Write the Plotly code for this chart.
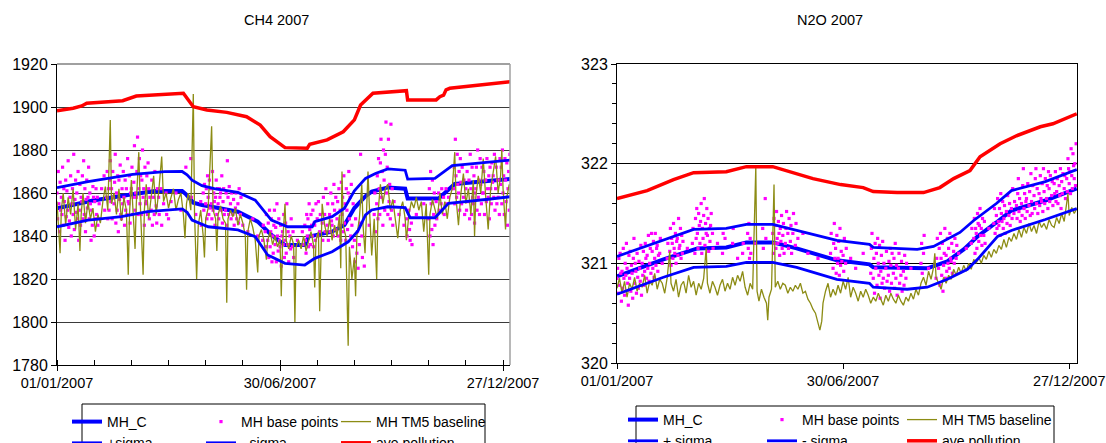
import pandas as pd
import plotly.graph_objects as go

BASE = pd.Timestamp("2007-01-01")

# ---------------- CH4 data (day of year from 01/01/2007) ----------------
ch4_mhc_day = [0, 28, 57, 79, 101, 104, 110, 117, 127, 146, 162, 173, 184, 200, 203, 222, 232, 240, 249, 254, 267, 281, 283, 308, 321, 348, 366]
ch4_mhc_val = [1852.9, 1856.4, 1859.1, 1860.9, 1860.9, 1859.5, 1855.5, 1854.4, 1853.4, 1851.3, 1846.7, 1840.5, 1835.8, 1835.8, 1839.7, 1842.0, 1845.1, 1853.0, 1858.5, 1860.6, 1862.6, 1862.0, 1857.5, 1857.5, 1864.2, 1865.3, 1866.5]

ch4_up_day = [0, 25, 61, 87, 101, 105, 109, 117, 127, 146, 160, 173, 186, 206, 208, 222, 232, 240, 249, 257, 267, 281, 283, 305, 319, 348, 366]
ch4_up_val = [1862.5, 1865.3, 1868.7, 1869.9, 1870.0, 1868.5, 1866.0, 1863.4, 1862.0, 1860.3, 1856.7, 1847.4, 1844.3, 1844.3, 1846.7, 1849.0, 1852.9, 1861.0, 1866.8, 1869.1, 1871.2, 1870.6, 1866.5, 1866.8, 1872.7, 1874.3, 1875.3]

ch4_lo_day = [0, 25, 52, 73, 101, 105, 109, 122, 146, 160, 170, 184, 200, 208, 222, 235, 243, 249, 254, 267, 281, 285, 305, 316, 348, 366]
ch4_lo_val = [1844.3, 1847.4, 1849.0, 1851.3, 1852.6, 1851.0, 1847.4, 1844.3, 1842.8, 1839.7, 1831.2, 1827.3, 1826.5, 1829.6, 1832.7, 1837.3, 1842.5, 1849.8, 1852.1, 1853.6, 1853.2, 1848.5, 1848.5, 1855.2, 1857.1, 1858.3]

ch4_pol_day = [0, 13, 20, 24, 53, 64, 102, 106, 110, 121, 137, 153, 164, 172, 184, 202, 204, 218, 231, 240, 245, 255, 282, 283, 306, 309, 312, 314, 317, 366]
ch4_pol_val = [1898.3, 1899.4, 1900.5, 1901.8, 1902.9, 1905.1, 1906.4, 1903.3, 1900.1, 1898.6, 1897.5, 1895.5, 1891.6, 1886.2, 1881.1, 1880.8, 1882.7, 1884.7, 1888.5, 1894.0, 1900.9, 1906.4, 1907.6, 1903.3, 1903.3, 1904.8, 1905.5, 1908.0, 1908.7, 1911.8]

ch4_tm5_day = [0, 1, 2.5, 3.5, 5, 7, 9, 11, 13, 15, 17, 18.5, 19.5, 21, 23, 25, 27, 29, 31, 33, 35, 37, 39, 41, 43, 44, 46, 48, 50, 52, 54, 56, 57.5, 58.5, 60, 62, 63, 64, 66, 67, 69.5, 70.5, 72, 74, 76, 78, 80, 82, 84.5, 86, 88, 90, 92, 94, 96, 98, 100, 102, 103.3, 104.5, 106, 108, 110, 111, 112.7, 114, 116, 118, 119, 120, 122, 124.8, 126, 128, 129, 130, 132, 134, 136, 137, 138, 140, 142, 144, 146, 148, 150, 152, 153, 154, 156, 158, 160, 162, 163, 165, 167, 169, 170, 172, 174, 176, 178, 180, 181, 182, 184, 185, 187, 189, 191, 192, 193, 195, 197, 199, 201, 203, 205, 207, 208, 209, 211, 212, 213, 214, 216, 218, 220, 222, 224, 226, 228, 229, 230, 231, 233, 235, 236, 238, 240, 241, 242, 244, 246, 247, 248.6, 250, 251, 252, 254, 256, 258, 259, 261, 263, 265, 267, 269, 271, 273, 275, 277, 279, 281, 282, 284, 286, 288, 290, 292, 294, 296, 298, 300, 301, 303, 305, 307, 309, 311, 313, 315, 317, 319, 321, 322, 324, 326, 328, 330, 332, 334, 336, 337, 338, 340, 342, 344, 346, 348, 350, 352, 354, 356, 358, 359, 360, 362, 363, 365]
ch4_tm5_val = [1856, 1848, 1832, 1852, 1860, 1845, 1858, 1850, 1862, 1843, 1855, 1833, 1850, 1860, 1846, 1856, 1848, 1853, 1842, 1850, 1846, 1856, 1863, 1852, 1894, 1855, 1860, 1850, 1862, 1847, 1858, 1852, 1822, 1850, 1866, 1845, 1834, 1855, 1879, 1858, 1822, 1852, 1864, 1848, 1858, 1868, 1850, 1860, 1877, 1856, 1860, 1853, 1858, 1862, 1852, 1857, 1860, 1850, 1839, 1855, 1860, 1852, 1906, 1850, 1820, 1845, 1852, 1840, 1830, 1848, 1853, 1891, 1852, 1848, 1833, 1850, 1854, 1848, 1846, 1809, 1848, 1852, 1849, 1853, 1845, 1850, 1846, 1840, 1815, 1842, 1848, 1844, 1838, 1823, 1840, 1843, 1838, 1829, 1838, 1842, 1836, 1840, 1835, 1838, 1812, 1836, 1855, 1838, 1834, 1840, 1836, 1800, 1835, 1838, 1834, 1840, 1833, 1838, 1842, 1836, 1816, 1838, 1842, 1805, 1840, 1855, 1845, 1840, 1848, 1838, 1845, 1840, 1850, 1825, 1870, 1845, 1840, 1789, 1835, 1820, 1830, 1812, 1840, 1848, 1864, 1845, 1832, 1850, 1870, 1855, 1831, 1848, 1820, 1850, 1864, 1855, 1862, 1864, 1852, 1857, 1848, 1839, 1852, 1856, 1848, 1838, 1850, 1856, 1853, 1858, 1852, 1856, 1842, 1855, 1822, 1850, 1857, 1853, 1848, 1860, 1850, 1856, 1848, 1858, 1862, 1879, 1858, 1845, 1860, 1869, 1855, 1862, 1850, 1866, 1840, 1858, 1868, 1860, 1876, 1858, 1843, 1862, 1870, 1877, 1860, 1868, 1880, 1862, 1843, 1858, 1864]

ch4_pts_day = [0, 2, 4, 6, 8, 10, 12, 14, 16, 18, 20, 22, 24, 26, 28, 30, 32, 34, 36, 38, 40, 42, 44, 46, 48, 50, 52, 54, 56, 58, 60, 62, 64, 66, 68, 70, 72, 74, 76, 78, 80, 82, 84, 86, 88, 90, 92, 96, 100, 104, 108, 112, 116, 118, 120, 122, 124, 126, 128, 130, 132, 134, 136, 138, 140, 142, 144, 146, 148, 150, 154, 158, 162, 166, 168, 170, 172, 174, 176, 178, 180, 182, 184, 186, 188, 190, 194, 198, 200, 202, 204, 206, 208, 210, 212, 214, 216, 218, 220, 222, 224, 226, 228, 230, 232, 234, 236, 238, 240, 242, 244, 246, 248, 252, 256, 258, 260, 262, 264, 266, 268, 270, 272, 276, 280, 282, 284, 286, 290, 296, 300, 302, 304, 306, 308, 310, 312, 314, 316, 320, 322, 324, 326, 328, 330, 332, 334, 336, 338, 340, 342, 344, 346, 348, 350, 352, 354, 356, 358, 360, 362, 364]
ch4_pts_val = [
    [1860, 1848, 1870, 1855], [1842, 1865, 1852, 1858], [1850, 1872, 1845, 1862], [1856, 1838, 1866, 1849],
    [1861, 1852, 1875, 1844], [1847, 1858, 1868, 1840], [1855, 1862, 1850, 1878], [1843, 1857, 1866, 1851],
    [1860, 1848, 1870, 1838], [1852, 1864, 1845, 1858], [1856, 1868, 1848, 1875], [1850, 1862, 1842, 1857],
    [1866, 1853, 1858, 1872], [1848, 1860, 1855, 1838], [1852, 1845, 1863, 1858], [1840, 1856, 1848, 1862],
    [1850, 1858, 1845], [1855, 1848], [1862], [1868, 1852],
    [1858, 1870, 1848, 1862], [1852, 1866, 1875, 1856], [1862, 1848, 1870, 1858], [1855, 1865, 1878, 1846],
    [1860, 1852, 1868, 1842], [1866, 1857, 1873, 1850], [1848, 1862, 1855, 1870], [1858, 1845, 1866, 1852],
    [1862, 1850, 1876, 1856], [1855, 1868, 1846, 1860], [1862, 1872, 1850, 1858], [1865, 1882, 1852, 1860],
    [1858, 1870, 1886, 1850], [1862, 1876, 1855, 1868], [1850, 1866, 1880, 1858], [1862, 1845, 1872, 1855],
    [1856, 1868, 1850, 1874], [1862, 1848, 1858], [1852, 1866, 1845], [1858, 1850, 1870],
    [1854, 1846, 1862], [1858, 1850], [1862, 1845], [1855], [1860, 1850], [1848], [1856], [1860], [1852],
    [1872], [1876, 1858], [1850], [1856, 1845], [1860, 1852, 1864],
    [1855, 1862, 1848, 1868], [1858, 1850, 1866, 1853], [1862, 1855, 1848, 1870], [1852, 1860, 1856, 1845],
    [1858, 1866, 1850, 1862], [1855, 1848, 1862, 1858], [1860, 1852, 1868, 1846], [1856, 1862, 1850],
    [1852, 1860, 1845, 1875], [1858, 1850, 1863], [1855, 1848, 1860], [1850, 1857, 1845], [1853, 1860, 1848],
    [1855, 1846, 1862], [1850, 1858], [1845], [1842], [1848], [1840], [1838, 1845], [1842, 1835, 1850],
    [1838, 1846, 1830, 1852], [1835, 1842, 1848, 1828], [1840, 1832, 1845, 1852], [1836, 1844, 1828, 1855],
    [1840, 1833, 1848, 1838], [1835, 1845, 1826, 1840], [1842, 1836, 1850, 1830], [1838, 1846, 1832, 1855],
    [1836, 1842, 1828], [1840, 1834, 1848], [1835, 1842, 1830], [1838], [1842, 1836],
    [1845, 1838, 1832, 1850], [1840, 1848, 1835, 1855], [1843, 1836, 1850, 1845], [1840, 1852, 1835, 1846],
    [1845, 1838, 1855], [1848, 1840, 1856], [1842, 1850], [1846, 1838, 1858], [1850, 1842, 1862],
    [1845, 1855, 1838], [1850, 1842, 1860, 1847], [1845, 1855, 1840, 1864], [1852, 1843, 1858],
    [1848, 1856, 1840, 1862], [1845, 1852, 1838, 1865], [1850, 1858, 1842, 1868], [1846, 1855, 1838, 1862],
    [1852, 1843, 1860, 1870], [1848, 1858, 1840, 1864], [1845, 1835, 1855], [1838, 1828, 1848],
    [1832, 1842, 1825], [1836, 1846, 1878], [1840, 1830], [1826], [1845],
    [1850, 1860, 1842], [1855, 1868, 1848, 1876], [1862, 1850, 1874, 1885], [1858, 1870, 1845, 1880],
    [1866, 1852, 1878, 1893], [1860, 1872, 1850, 1885], [1856, 1864, 1848, 1892], [1852, 1862, 1845],
    [1856], [1850], [1845], [1848, 1840], [1852, 1843, 1838], [1846, 1836], [1850], [1855],
    [1848, 1862, 1840, 1870], [1855, 1843, 1866, 1836], [1850, 1860, 1845], [1856, 1848], [1860, 1852],
    [1855, 1862], [1858, 1850], [1862, 1855], [1858],
    [1862, 1872, 1855, 1885], [1868, 1858, 1878, 1864], [1860, 1870, 1852, 1876], [1865, 1855, 1872],
    [1858, 1866, 1850], [1862, 1852, 1870], [1856, 1866, 1848, 1878], [1862, 1850, 1872, 1858],
    [1855, 1868, 1846, 1860], [1862, 1872, 1852, 1880], [1858, 1866, 1850, 1876], [1864, 1855, 1872, 1860],
    [1860, 1870, 1850, 1866], [1866, 1856, 1876, 1862], [1858, 1868, 1848, 1872], [1862, 1855, 1874, 1865],
    [1868, 1858, 1878, 1852], [1862, 1872, 1855, 1866], [1858, 1866, 1850, 1876], [1864, 1872, 1855, 1880],
    [1860, 1868, 1850, 1876], [1866, 1856, 1874, 1845], [1862, 1870, 1852, 1878],
]

# ---------------- N2O data ----------------
n2o_mhc_day = [0, 37, 64, 87, 103, 124, 143, 175, 201, 204, 247, 263, 276, 287, 302, 314, 341, 366]
n2o_mhc_val = [320.87, 321.04, 321.15, 321.16, 321.21, 321.21, 321.15, 321.03, 320.99, 320.96, 320.95, 321.02, 321.14, 321.27, 321.41, 321.53, 321.63, 321.75]

n2o_up_day = [0, 37, 61, 87, 103, 124, 140, 175, 201, 204, 239, 252, 273, 284, 302, 314, 341, 366]
n2o_up_val = [321.07, 321.23, 321.34, 321.35, 321.39, 321.39, 321.34, 321.23, 321.19, 321.16, 321.14, 321.17, 321.31, 321.43, 321.60, 321.73, 321.82, 321.94]

n2o_lo_day = [0, 37, 61, 87, 103, 124, 143, 175, 201, 204, 231, 247, 263, 279, 287, 303, 314, 341, 366]
n2o_lo_val = [320.69, 320.86, 320.96, 320.97, 321.01, 321.01, 320.96, 320.84, 320.80, 320.76, 320.74, 320.76, 320.84, 320.94, 321.04, 321.27, 321.33, 321.44, 321.55]

n2o_pol_day = [0, 24, 45, 61, 87, 103, 124, 135, 156, 178, 196, 204, 223, 244, 257, 268, 281, 289, 305, 318, 337, 347, 366]
n2o_pol_val = [321.65, 321.73, 321.84, 321.91, 321.92, 321.97, 321.97, 321.93, 321.85, 321.79, 321.76, 321.72, 321.71, 321.71, 321.76, 321.85, 321.93, 322.07, 322.20, 322.28, 322.37, 322.40, 322.50]

n2o_tm5_day = [0, 2, 4, 6, 8, 10, 12, 14, 16, 18, 20, 22, 24, 26, 28, 30, 32, 34, 36, 38, 40, 42, 43, 45, 47, 49, 51, 53, 55, 57, 59, 61, 63, 65, 67, 69, 71, 72, 74, 76, 78, 80, 82, 84, 86, 88, 90, 92, 94, 96, 98, 100, 102, 104, 106, 108, 110.5, 111.5, 113, 115, 117, 119, 120, 121, 123, 125, 126, 128, 130, 132, 134, 136, 138, 140, 142, 144, 146, 148, 150, 152, 154, 156, 158, 160, 161.5, 163, 164, 166, 168, 170, 172, 174, 176, 178, 180, 182, 184, 186, 188, 190, 192, 194, 196, 198, 200, 202, 204, 206, 208, 210, 212, 214, 216, 218, 220, 222, 224, 226, 228, 230, 232, 234, 236, 238, 240, 242, 244, 246, 248, 250, 252, 253, 254, 256, 258, 260, 262, 264, 266, 268, 270, 272, 274, 276, 278, 280, 282, 284, 286, 288, 290, 292, 294, 296, 298, 300, 302, 304, 306, 308, 310, 312, 314, 316, 318, 320, 322, 324, 326, 328, 330, 332, 334, 336, 338, 340, 342, 344, 346, 348, 350, 352, 354, 356, 358, 359, 360, 362, 364, 366]
n2o_tm5_val = [320.75, 320.85, 320.70, 320.82, 320.66, 320.80, 320.74, 320.86, 320.72, 320.80, 320.76, 320.88, 320.70, 320.82, 320.78, 320.90, 320.74, 320.84, 320.80, 320.70, 320.86, 321.12, 320.80, 320.72, 320.84, 320.66, 320.78, 320.82, 320.70, 320.88, 320.76, 320.82, 320.68, 320.80, 320.74, 320.85, 321.15, 320.80, 320.70, 320.82, 320.76, 320.68, 320.78, 320.84, 320.72, 320.80, 320.74, 320.86, 320.78, 320.88, 320.82, 320.92, 320.76, 320.68, 320.80, 320.74, 321.97, 320.72, 320.62, 320.74, 320.66, 320.60, 320.43, 320.66, 320.74, 321.79, 320.76, 320.82, 320.74, 320.80, 320.78, 320.70, 320.76, 320.72, 320.78, 320.74, 320.80, 320.70, 320.72, 320.64, 320.60, 320.54, 320.50, 320.40, 320.33, 320.42, 320.60, 320.72, 320.80, 320.66, 320.74, 320.68, 320.78, 320.70, 320.82, 320.74, 320.86, 320.66, 320.76, 320.70, 320.62, 320.72, 320.66, 320.74, 320.68, 320.60, 320.66, 320.62, 320.70, 320.64, 320.58, 320.68, 320.62, 320.70, 320.64, 320.60, 320.68, 320.62, 320.58, 320.66, 320.62, 320.70, 320.64, 320.74, 320.68, 320.80, 320.86, 320.78, 320.92, 320.84, 320.96, 321.10, 320.86, 320.80, 320.74, 320.86, 320.80, 320.88, 320.84, 320.94, 320.88, 320.96, 320.90, 320.98, 320.92, 321.00, 320.94, 321.04, 321.00, 321.06, 321.00, 321.08, 321.04, 321.12, 321.06, 321.14, 321.10, 321.18, 321.14, 321.24, 321.16, 321.26, 321.22, 321.30, 321.24, 321.34, 321.26, 321.36, 321.30, 321.40, 321.32, 321.38, 321.30, 321.42, 321.36, 321.40, 321.34, 321.44, 321.38, 321.36, 321.46, 321.40, 321.50, 321.42, 321.58, 321.70, 321.48, 321.56, 321.50, 321.55]

n2o_pts_day = [0, 2, 4, 6, 8, 10, 12, 14, 16, 18, 20, 22, 24, 26, 28, 30, 32, 34, 36, 40, 42, 44, 46, 48, 50, 52, 56, 60, 62, 64, 66, 68, 70, 72, 74, 76, 80, 84, 86, 92, 96, 100, 104, 106, 110, 116, 118, 124, 126, 128, 130, 132, 134, 136, 138, 140, 142, 144, 148, 152, 160, 170, 172, 174, 176, 178, 180, 182, 186, 190, 196, 202, 204, 206, 208, 210, 212, 214, 216, 218, 220, 222, 224, 226, 228, 230, 234, 242, 244, 248, 254, 256, 258, 260, 262, 264, 266, 268, 270, 272, 278, 282, 284, 286, 288, 290, 292, 296, 300, 302, 304, 306, 308, 310, 312, 314, 316, 318, 320, 322, 324, 326, 328, 330, 332, 334, 336, 338, 340, 342, 344, 346, 348, 350, 352, 354, 356, 358, 360, 362, 364]
n2o_pts_val = [
    [320.85, 320.95, 320.70, 321.05], [320.78, 321.10, 320.90, 320.62], [320.92, 320.75, 321.15, 320.85],
    [320.68, 321.00, 320.88, 321.20], [320.95, 320.80, 320.58, 321.08], [320.85, 321.12, 320.72, 320.98],
    [320.90, 320.65, 321.05, 321.25], [320.80, 321.00, 320.92, 320.70], [321.10, 320.86, 320.75, 321.02],
    [320.95, 320.82, 321.18, 320.68], [321.00, 320.88, 321.12, 320.78], [320.92, 321.20, 321.05, 320.85],
    [321.08, 320.95, 321.28, 320.82], [321.00, 321.15, 320.90, 321.30], [321.12, 320.95, 321.22, 320.86],
    [321.05, 321.30, 320.98, 321.15], [321.18, 320.92, 321.08], [321.10, 321.25], [321.00], [321.05, 321.20],
    [321.12, 321.35, 320.98, 321.25], [321.20, 321.05, 321.40, 321.15], [321.10, 321.30, 321.00, 321.22],
    [321.25, 321.08, 321.45, 321.15], [321.18, 321.35, 321.05, 321.28], [321.10, 321.22], [321.15],
    [321.20, 321.35], [321.10, 321.45, 321.25, 321.55], [321.30, 321.15, 321.50, 321.38],
    [321.20, 321.42, 321.60, 321.10], [321.35, 321.25, 321.48, 321.65], [321.18, 321.40, 321.30, 321.55],
    [321.28, 321.45, 321.12, 321.35], [321.22, 321.38, 321.50], [321.30, 321.15], [321.20], [321.10, 321.30],
    [321.25], [321.20, 321.35], [321.05], [321.10, 321.20], [321.30, 321.15, 321.40, 321.05], [321.25, 321.10],
    [321.20], [321.35, 321.15], [321.65, 321.25], [321.30, 321.10, 321.45, 321.20], [321.38, 321.15, 321.52, 321.25],
    [321.20, 321.42, 321.30, 321.08], [321.35, 321.22, 321.48, 321.15], [321.28, 321.40, 321.10],
    [321.20, 321.35, 321.52], [321.30, 321.15, 321.45], [321.22, 321.38, 321.10], [321.30, 321.50],
    [321.18, 321.40], [321.25], [321.30], [321.10], [321.05], [321.10, 321.30],
    [320.95, 321.20, 321.40, 321.05], [321.15, 320.90, 321.28, 321.00], [321.05, 321.22, 320.88, 321.35],
    [320.98, 321.12, 321.02], [321.08, 320.92, 321.25], [321.00, 321.15], [321.05], [320.95], [321.10],
    [320.90, 321.15, 321.30], [320.85, 321.05, 320.70, 321.20], [320.95, 321.10, 320.78, 321.25],
    [321.00, 320.88, 321.18, 320.65], [320.92, 321.08, 320.80, 321.22], [320.85, 321.00, 320.75],
    [320.95, 321.12, 320.82], [320.88, 321.02, 320.72, 321.15], [320.98, 320.80, 321.10],
    [320.90, 321.05, 320.75, 321.20], [320.85, 320.98, 320.68], [320.95, 321.10, 320.80],
    [320.88, 321.02, 320.72], [320.92, 320.78, 321.08], [320.85, 321.00], [320.95],
    [321.00, 321.20, 320.90], [321.10, 321.28], [320.95], [320.85, 321.05, 321.25],
    [320.95, 321.15, 320.78, 321.30], [321.05, 320.88, 321.20, 320.72], [320.98, 321.10, 321.35, 320.85],
    [321.08, 320.92, 321.25, 321.00], [321.15, 320.95, 321.30, 321.05], [321.02, 321.20, 320.90],
    [321.12, 321.00, 321.25], [321.05, 321.18], [321.10], [321.15], [321.20, 321.35],
    [321.25, 321.45, 321.10, 321.35], [321.30, 321.15, 321.50, 321.40], [321.22, 321.38, 321.55, 321.28],
    [321.35, 321.18, 321.45], [321.28, 321.42, 321.20], [321.35], [321.40, 321.55, 321.30],
    [321.48, 321.35, 321.65, 321.42], [321.38, 321.55, 321.28, 321.70], [321.50, 321.42, 321.62, 321.35],
    [321.45, 321.58, 321.30], [321.52, 321.40, 321.68], [321.48, 321.60, 321.38], [321.55, 321.45, 321.75],
    [321.50, 321.62], [321.58, 321.45, 321.70, 321.85], [321.52, 321.65, 321.42],
    [321.60, 321.48, 321.78, 321.95], [321.55, 321.70, 321.45, 321.62], [321.65, 321.52, 321.80],
    [321.58, 321.72, 321.48, 321.90], [321.62, 321.50, 321.78], [321.68, 321.55, 321.85, 321.95],
    [321.60, 321.75, 321.50], [321.70, 321.58, 321.88, 321.65], [321.62, 321.80, 321.52, 321.95],
    [321.72, 321.60, 321.85], [321.65, 321.78, 321.55, 321.92], [321.75, 321.62, 321.88],
    [321.68, 321.82, 321.58], [321.80, 321.70, 321.92, 321.62], [321.72, 321.85, 321.60],
    [321.78, 321.68, 321.95, 321.55], [321.82, 321.70, 321.90], [321.75, 321.88, 321.65],
    [321.85, 321.72, 322.05, 321.95], [321.80, 321.92, 321.70, 322.15], [321.88, 321.75, 322.10, 321.98],
    [321.85, 322.00, 321.78, 322.20],
]

tick_labels = ["01/01/2007", "30/06/2007", "27/12/2007"]
tick_days = [0, 180, 360]
minor_days = [0, 30, 60, 90, 120, 150, 180, 210, 240, 270, 300, 330, 360]


def dates(days):
    return [BASE + pd.Timedelta(days=float(d)) for d in days]


def flatten(days, vals):
    xs, ys = [], []
    for d, vs in zip(days, vals):
        for k, v in enumerate(vs):
            xs.append(d + 0.5 * k)
            ys.append(v)
    return dates(xs), ys


FONT = "Liberation Sans, Arial, sans-serif"
BLUE = "#0000ff"
fig = go.Figure()


def add_chart(xa, ya, legs, mhc, pts, tm5, up, lo, pol, up_name, lo_name):
    l1, l2, l3 = legs
    fig.add_trace(go.Scatter(x=dates(mhc[0]), y=mhc[1], mode="lines", name="MH_C",
                             line=dict(color=BLUE, width=4), xaxis=xa, yaxis=ya, legend=l1))
    px_, py_ = flatten(*pts)
    fig.add_trace(go.Scatter(x=px_, y=py_, mode="markers", name="MH base points",
                             marker=dict(color="#ff00ff", size=3.2, symbol="square"),
                             xaxis=xa, yaxis=ya, legend=l2))
    fig.add_trace(go.Scatter(x=dates(tm5[0]), y=tm5[1], mode="lines", name="MH TM5 baseline",
                             line=dict(color="#8c8c14", width=1.3), xaxis=xa, yaxis=ya, legend=l3))
    fig.add_trace(go.Scatter(x=dates(up[0]), y=up[1], mode="lines", name=up_name,
                             line=dict(color=BLUE, width=2.8), xaxis=xa, yaxis=ya, legend=l1))
    fig.add_trace(go.Scatter(x=dates(lo[0]), y=lo[1], mode="lines", name=lo_name,
                             line=dict(color=BLUE, width=2.8), xaxis=xa, yaxis=ya, legend=l2))
    fig.add_trace(go.Scatter(x=dates(pol[0]), y=pol[1], mode="lines", name="ave pollution",
                             line=dict(color="#ff0000", width=3.5), xaxis=xa, yaxis=ya, legend=l3))


add_chart("x", "y", ("legend", "legend2", "legend3"),
          (ch4_mhc_day, ch4_mhc_val), (ch4_pts_day, ch4_pts_val), (ch4_tm5_day, ch4_tm5_val),
          (ch4_up_day, ch4_up_val), (ch4_lo_day, ch4_lo_val), (ch4_pol_day, ch4_pol_val),
          "+sigma", "- sigma")
add_chart("x2", "y2", ("legend4", "legend5", "legend6"),
          (n2o_mhc_day, n2o_mhc_val), (n2o_pts_day, n2o_pts_val), (n2o_tm5_day, n2o_tm5_val),
          (n2o_up_day, n2o_up_val), (n2o_lo_day, n2o_lo_val), (n2o_pol_day, n2o_pol_val),
          "+ sigma", "- sigma")

W, H = 1106, 443


def px(x):
    return x / W


def py(y):
    return 1 - y / H


xrange_ = [BASE, BASE + pd.Timedelta(days=365.6)]
xrange2 = [BASE, BASE + pd.Timedelta(days=366.2)]

common_x = dict(type="date", tickmode="array", tickvals=dates(tick_days), ticktext=tick_labels,
                tickfont=dict(family=FONT, size=14.5, color="black"), showgrid=False,
                showline=True, linecolor="black", linewidth=1, ticks="outside", ticklen=5,
                tickcolor="black", zeroline=False, automargin=False)

fig.update_layout(
    width=W, height=H, margin=dict(l=0, r=0, t=0, b=0, autoexpand=False),
    paper_bgcolor="white", plot_bgcolor="white", showlegend=True,
    font=dict(family=FONT, color="black"),
    xaxis=dict(domain=[px(57), px(510)], range=xrange_, anchor="y",
               minor=dict(tickmode="array", tickvals=dates(minor_days), ticks="inside",
                          ticklen=5, tickcolor="black", showgrid=False),
               **common_x),
    yaxis=dict(domain=[py(365), py(64)], range=[1780, 1920], tickmode="linear", tick0=1780, dtick=20,
               tickfont=dict(family=FONT, size=16, color="black"), showgrid=True,
               gridcolor="#3a3a3a", gridwidth=1, showline=True, linecolor="black",
               ticks="outside", ticklen=5, tickcolor="black", zeroline=False, anchor="x",
               automargin=False),
    xaxis2=dict(domain=[px(617), px(1077)], range=xrange2, anchor="y2", mirror=True, **common_x),
    yaxis2=dict(domain=[py(363), py(64)], range=[320, 323], tickmode="linear", tick0=320, dtick=1,
                tickfont=dict(family=FONT, size=16, color="black"), showgrid=True,
                gridcolor="black", gridwidth=1, showline=True, linecolor="black", mirror=True,
                ticks="outside", ticklen=5, tickcolor="black", zeroline=False, anchor="x2",
                automargin=False,
                minor=dict(tickmode="linear", tick0=320, dtick=0.2, ticks="outside", ticklen=4,
                           tickcolor="black", showgrid=False)),
)

leg_common = dict(orientation="v", xanchor="left", yanchor="top", bgcolor="rgba(0,0,0,0)",
                  borderwidth=0, font=dict(family=FONT, size=14, color="black"),
                  itemwidth=30, itemclick=False, itemdoubleclick=False, tracegroupgap=0)
LEG_TOP_L = 406
LEG_TOP_R = 404
fig.update_layout(
    legend=dict(x=px(67), y=py(LEG_TOP_L), **leg_common),
    legend2=dict(x=px(201), y=py(LEG_TOP_L), **leg_common),
    legend3=dict(x=px(336), y=py(LEG_TOP_L), **leg_common),
    legend4=dict(x=px(623), y=py(LEG_TOP_R), **leg_common),
    legend5=dict(x=px(762), y=py(LEG_TOP_R), **leg_common),
    legend6=dict(x=px(902), y=py(LEG_TOP_R), **leg_common),
)

shapes = [
    # left chart top and right borders (grey)
    dict(type="line", xref="paper", yref="paper", x0=px(57), x1=px(510), y0=py(64), y1=py(64),
         line=dict(color="#808080", width=1.5)),
    dict(type="line", xref="paper", yref="paper", x0=px(510), x1=px(510), y0=py(64), y1=py(365),
         line=dict(color="#a0a0a0", width=1.5)),
    # legend boxes
    dict(type="rect", xref="paper", yref="paper", x0=px(82), x1=px(485), y0=py(404), y1=py(452),
         line=dict(color="black", width=1)),
    dict(type="rect", xref="paper", yref="paper", x0=px(636), x1=px(1054), y0=py(406), y1=py(452),
         line=dict(color="black", width=1)),
]
fig.update_layout(shapes=shapes)

fig.add_annotation(text="CH4 2007", x=px(276), y=py(20), xref="paper", yref="paper",
                   xanchor="center", yanchor="middle",
                   showarrow=False, font=dict(family=FONT, size=14.5, color="black"))
fig.add_annotation(text="N2O 2007", x=px(830), y=py(20), xref="paper", yref="paper",
                   xanchor="center", yanchor="middle",
                   showarrow=False, font=dict(family=FONT, size=14.5, color="black"))

fig.write_html("out.html", config={"displayModeBar": False},
               post_script="document.body.style.margin='0';")
